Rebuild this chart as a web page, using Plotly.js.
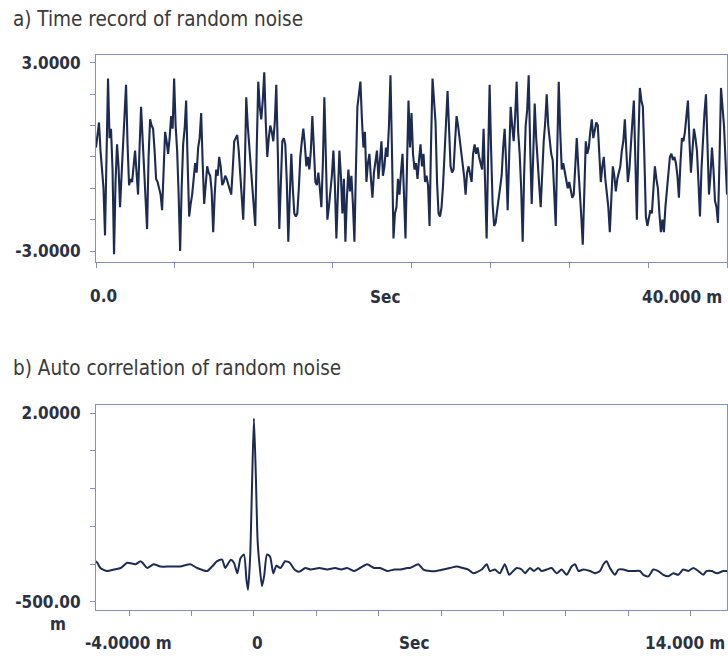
<!DOCTYPE html>
<html>
<head>
<meta charset="utf-8">
<script src="https://cdn.plot.ly/plotly-3.0.1.min.js"></script>
<style>html,body{margin:0;padding:0;background:#fff;}#chart{width:728px;height:659px;}</style>
</head>
<body>
<div id="chart"></div>
<script>
// a) Time record of random noise: amplitude read every ~0.095 ms over 0..40 ms
const noiseSpanMs = 40;
const noiseValues = [
  0.3, 0.8, 1.1, 0.2, -0.4, -1.0, -2.5, 0.1, 2.5, 0.6,
  0.9, -0.4, -3.1, -0.8, 0.4, -0.3, -1.6, -0.6, 0.5, 1.2,
  2.3, 0.4, -0.9, -0.7, -0.8, -0.3, 0.2, -0.5, -1.2, 0.3,
  1.6, 0.6, -0.3, -1.1, -2.3, 0.0, 1.2, 1.0, 0.9, 0.2,
  -0.7, -0.8, -1.0, -1.2, -1.7, -0.4, 0.8, 0.5, 0.1, 0.6,
  1.3, 0.9, 2.5, 1.0, 0.2, -1.2, -3.0, -1.0, 0.4, 0.9,
  1.8, -0.2, -1.9, -1.5, -1.2, -0.7, -0.2, -0.5, 0.3, 0.6,
  1.4, -0.2, -1.5, -0.9, -0.3, -0.5, -0.6, -1.1, -2.4, -1.2,
  -0.4, -0.6, 0.0, -0.3, -0.9, -0.8, -0.6, -0.7, -0.9, -1.0,
  -1.2, -0.4, 0.5, 0.6, 0.7, 0.2, -0.6, -1.3, -2.0, -0.5,
  1.9, 1.0, 0.4, -0.3, -0.9, -1.4, -2.2, 0.3, 2.4, 1.6,
  1.2, 1.8, 2.7, 1.1, 0.0, 0.6, 1.0, 0.8, 0.5, 1.1,
  2.3, 0.2, -2.3, -0.9, 0.5, 0.6, 0.4, -0.8, -2.7, -1.2,
  0.1, -1.0, -1.8, -1.9, -1.8, -1.0, 0.0, 0.5, 0.9, 0.4,
  -0.3, 0.0, -0.4, 0.2, 1.3, 0.3, -0.8, -0.9, -0.5, -1.0,
  -1.6, -0.2, 1.9, 0.0, -2.0, -1.6, -1.2, -0.6, 0.2, -0.9,
  -2.6, -0.8, 0.2, -0.6, -1.8, -0.7, -2.7, -1.3, -0.4, -1.1,
  -0.6, -1.5, -2.7, -0.4, 1.6, 2.0, 2.4, 1.2, 0.3, 0.8,
  -0.8, -0.2, 0.1, -0.7, -1.3, -0.5, -0.2, 0.2, -0.7, -0.1,
  0.5, -0.6, -0.3, 0.3, 0.0, 1.0, 2.6, 0.2, -2.6, -1.8,
  -1.6, -0.7, -1.2, -0.5, 0.1, -1.2, -2.6, -0.3, 1.8, 0.3,
  1.4, 0.1, -0.4, -0.2, -0.7, -0.1, 0.4, -0.3, 0.1, -0.8,
  -0.6, -0.9, -2.2, 0.4, 2.5, 1.8, 1.1, -0.8, -1.8, -1.9,
  -1.6, -0.9, 0.0, 1.2, 2.1, 0.9, -0.3, -0.5, -0.4, 0.5,
  1.3, 1.0, 0.6, 0.2, -0.1, -0.6, -1.2, -0.5, -0.3, -0.6,
  -0.8, 0.1, 0.4, 0.1, 0.3, 0.0, -0.2, -0.4, 0.9, -0.6,
  -2.6, 0.0, 2.3, 0.2, -1.5, -2.2, -2.1, -1.7, -1.3, -1.0,
  -0.6, 0.3, 0.9, -0.2, -1.7, 0.0, 1.6, 1.0, 0.5, 1.3,
  2.4, 0.8, 0.1, -1.0, -2.7, -0.5, 1.0, 1.5, 2.6, 0.3,
  -1.5, 0.0, 1.7, 0.6, -0.3, -0.9, -1.6, -0.4, 0.5, 1.1,
  2.0, 1.0, 0.5, 0.1, -0.1, -1.0, -2.2, 0.2, 2.4, 0.8,
  -0.4, -0.2, -0.5, -0.8, -1.0, -0.8, -1.0, -1.3, -1.2, -0.2,
  0.6, -0.3, -1.0, -1.9, -2.8, -0.9, 0.5, 0.1, 0.3, 0.8,
  1.2, 0.6, 0.9, 1.1, 1.0, 0.1, -0.8, -0.3, 0.0, -0.7,
  -1.2, -1.6, -2.4, -1.0, -0.3, -0.6, -1.1, -0.7, -0.5, -0.3,
  0.2, 0.5, 1.2, 0.1, -0.8, -0.4, 0.5, 1.1, 1.8, -0.4,
  -2.0, 0.5, 2.2, 1.8, 1.6, 0.0, -1.9, -2.2, -2.0, -1.7,
  -1.8, -1.2, -0.3, -0.7, -1.0, -1.8, -2.4, -2.0, -2.4, -1.6,
  -1.0, -0.4, 0.0, 0.1, -0.1, 0.0, -0.2, -0.6, -1.3, -0.2,
  0.6, 0.5, 0.8, 1.3, 1.8, 0.5, -0.5, 0.2, 0.9, 0.6,
  0.2, -0.8, -1.9, -0.4, 0.8, 1.4, 2.0, 0.1, -1.2, -0.6,
  0.3, -0.4, -1.4, -1.6, -2.1, -0.1, 2.2, 1.6, 1.0, -0.1,
  -1.2
];

// b) Auto correlation of random noise: lag (ms) and value
const lagMs = [
  -5.10, -5.02, -4.92, -4.70, -4.49, -4.27, -4.06, -3.79, -3.63, -3.53,
  -3.42, -3.21, -3.00, -2.68, -2.36, -2.04, -1.82, -1.50, -1.34, -1.18,
  -1.02, -0.92, -0.81, -0.74, -0.64, -0.53, -0.43, -0.32, -0.24, -0.19,
  -0.12, -0.06, 0.0, 0.06, 0.12, 0.19, 0.26, 0.33, 0.42, 0.52,
  0.62, 0.72, 0.85, 1.00, 1.15, 1.30, 1.45, 1.65, 1.82, 2.10,
  2.35, 2.60, 2.80, 2.99, 3.20, 3.40, 3.63, 3.85, 4.05, 4.27,
  4.50, 4.70, 4.91, 5.00, 5.27, 5.43, 5.64, 5.85, 6.07, 6.28,
  6.50, 6.70, 6.87, 7.03, 7.30, 7.46, 7.56, 7.72, 7.88, 8.04,
  8.18, 8.31, 8.42, 8.58, 8.69, 8.85, 8.97, 9.11, 9.22, 9.38,
  9.54, 9.70, 9.86, 10.02, 10.18, 10.29, 10.40, 10.56, 10.77, 10.93,
  11.09, 11.20, 11.30, 11.41, 11.57, 11.68, 11.84, 12.00, 12.16, 12.37,
  12.48, 12.64, 12.80, 12.96, 13.12, 13.28, 13.44, 13.60, 13.76, 13.92,
  14.08, 14.24, 14.40, 14.50, 14.67, 14.84, 15.04, 15.16
];
const acValues = [
  0.05, 0.02, -0.05, -0.09, -0.07, -0.05, 0.02, 0.00, 0.04, 0.00,
  -0.05, 0.00, -0.03, -0.03, -0.03, 0.00, -0.05, -0.09, -0.03, 0.04,
  0.06, -0.05, 0.02, 0.06, 0.02, -0.12, 0.08, 0.13, -0.20, -0.34,
  0.10, 1.05, 1.93, 1.20, 0.30, -0.05, -0.29, -0.15, 0.13, 0.10,
  -0.12, -0.02, -0.05, 0.04, 0.02, -0.07, -0.10, -0.05, -0.07, -0.05,
  -0.07, -0.05, -0.07, -0.05, -0.09, -0.05, 0.00, -0.05, -0.05, -0.09,
  -0.07, -0.07, -0.05, -0.05, 0.00, -0.07, -0.09, -0.09, -0.07, -0.05,
  -0.03, -0.05, -0.07, -0.12, -0.07, 0.00, -0.09, -0.07, -0.12, 0.00,
  -0.14, -0.09, -0.05, -0.07, -0.12, -0.05, -0.09, -0.05, -0.09, -0.07,
  -0.05, -0.12, -0.07, -0.14, -0.03, 0.00, -0.09, -0.07, -0.09, -0.12,
  -0.09, 0.00, 0.04, -0.05, -0.14, -0.07, -0.07, -0.09, -0.09, -0.09,
  -0.14, -0.16, -0.07, -0.09, -0.14, -0.16, -0.12, -0.14, -0.07, -0.09,
  -0.05, -0.09, -0.14, -0.09, -0.09, -0.12, -0.09, -0.09
];

// Axis labels
const topYTickVals = [-3, -2, -1, 0, 1, 2, 3];
const topYTickText = ['-3.0000', '', '', '', '', '', '3.0000'];
const botYTickVals = [-0.5, 0, 0.5, 1, 1.5, 2];
const botYTickText = ['-500.00', '', '', '', '', '2.0000'];
const topXTickVals = [0, 5, 10, 15, 20, 25, 30, 35, 40];
const botXTickVals = [-4, -2, 0, 2, 4, 6, 8, 10, 12, 14];

const noiseStep = noiseSpanMs / (noiseValues.length - 1);
const noiseTime = noiseValues.map((_, i) => i * noiseStep);

const lineColor = '#1d2b52';
const frameColor = '#8190bd';
const labelFont = {family: 'DejaVu Sans Condensed, DejaVu Sans, sans-serif', size: 17, color: '#2c3142', weight: 'bold'};
const titleFont = {family: 'DejaVu Sans Condensed, DejaVu Sans, sans-serif', size: 20.5, color: '#3a3a3a'};

const axisCommon = {
  showgrid: false, zeroline: false, showline: true, linecolor: frameColor, linewidth: 1,
  mirror: true, ticks: 'outside', tickcolor: frameColor, ticklen: 5, tickwidth: 1,
  fixedrange: true
};

const traces = [
  {x: noiseTime, y: noiseValues, xaxis: 'x', yaxis: 'y', type: 'scatter', mode: 'lines',
   line: {color: lineColor, width: 2.1}, hoverinfo: 'skip'},
  {x: lagMs, y: acValues, xaxis: 'x2', yaxis: 'y2', type: 'scatter', mode: 'lines',
   line: {color: lineColor, width: 2, shape: 'spline', smoothing: 0.6}, hoverinfo: 'skip'}
];

const W = 631, H = 555;
const px = (x) => (x - 96) / W;
const py = (y) => (610 - y) / H;

const layout = {
  width: 728, height: 659,
  margin: {l: 96, r: 1, t: 55, b: 49},
  paper_bgcolor: '#ffffff', plot_bgcolor: '#ffffff',
  showlegend: false,
  xaxis: Object.assign({}, axisCommon, {domain: [0, 1], range: [0, 40], anchor: 'y',
    tickvals: topXTickVals, showticklabels: false}),
  yaxis: Object.assign({}, axisCommon, {domain: [0.627, 1], range: [-3.35, 3.25], anchor: 'x',
    tickvals: topYTickVals, ticktext: topYTickText, tickfont: labelFont, ticklabelstandoff: 6}),
  xaxis2: Object.assign({}, axisCommon, {domain: [0, 1], range: [-5.06, 15.16], anchor: 'y2',
    tickvals: botXTickVals, showticklabels: false}),
  yaxis2: Object.assign({}, axisCommon, {domain: [0, 0.369], range: [-0.606, 2.106], anchor: 'x2',
    tickvals: botYTickVals, ticktext: botYTickText, tickfont: labelFont, ticklabelstandoff: 6}),
  annotations: [
    {text: 'a) Time record of random noise', xref: 'paper', yref: 'paper', x: px(11), y: py(19),
     xanchor: 'left', yanchor: 'middle', showarrow: false, font: titleFont},
    {text: 'b) Auto correlation of random noise', xref: 'paper', yref: 'paper', x: px(11), y: py(368),
     xanchor: 'left', yanchor: 'middle', showarrow: false, font: titleFont},
    {text: '0.0', xref: 'paper', yref: 'paper', x: px(88), y: py(296),
     xanchor: 'left', yanchor: 'middle', showarrow: false, font: labelFont},
    {text: 'Sec', xref: 'paper', yref: 'paper', x: px(385), y: py(297),
     xanchor: 'center', yanchor: 'middle', showarrow: false, font: labelFont},
    {text: '40.000 m', xref: 'paper', yref: 'paper', x: px(724), y: py(297),
     xanchor: 'right', yanchor: 'middle', showarrow: false, font: labelFont},
    {text: '-4.0000 m', xref: 'paper', yref: 'paper', x: px(128), y: py(643),
     xanchor: 'center', yanchor: 'middle', showarrow: false, font: labelFont},
    {text: '0', xref: 'paper', yref: 'paper', x: px(257), y: py(643),
     xanchor: 'center', yanchor: 'middle', showarrow: false, font: labelFont},
    {text: 'Sec', xref: 'paper', yref: 'paper', x: px(414), y: py(643),
     xanchor: 'center', yanchor: 'middle', showarrow: false, font: labelFont},
    {text: '14.000 m', xref: 'paper', yref: 'paper', x: px(727), y: py(643),
     xanchor: 'right', yanchor: 'middle', showarrow: false, font: labelFont},
    {text: 'm', xref: 'paper', yref: 'paper', x: px(58), y: py(624),
     xanchor: 'center', yanchor: 'middle', showarrow: false, font: labelFont}
  ]
};

Plotly.newPlot('chart', traces, layout, {staticPlot: true, displayModeBar: false});
</script>
</body>
</html>
